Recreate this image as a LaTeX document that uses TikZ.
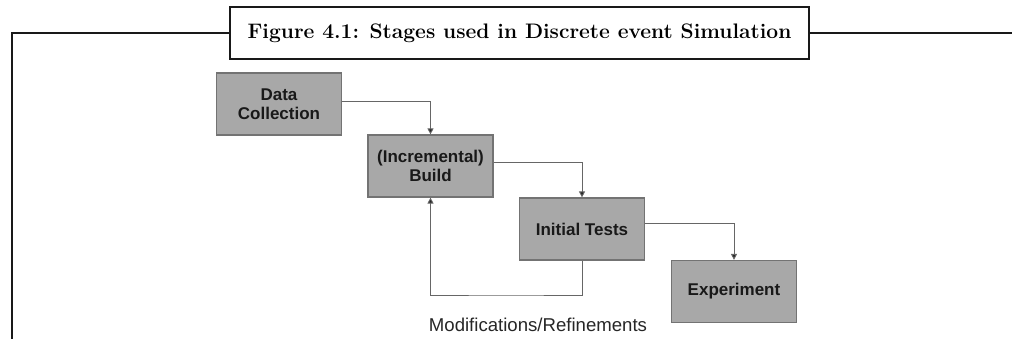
\documentclass[tikz,border=0pt]{standalone}
\usepackage{fontspec}
\newfontfamily\arialf{Liberation Sans}
\usetikzlibrary{arrows.meta}
\begin{document}
\begin{tikzpicture}[x=1pt,y=-1pt,
  stage/.style={draw=black!55,line width=1.2pt,fill=black!34,
    minimum width=125pt,minimum height=62pt,inner sep=0pt,align=center,
    font=\arialf\bfseries\fontsize{17}{18.5}\selectfont,text=black!90},
  link/.style={draw=black!60,line width=0.9pt,
    -{Triangle[length=6pt,width=6pt,fill=black!85]}},
  frame/.style={line width=2pt,draw=black!90}]
\useasboundingbox (0,0) rectangle (1012,339);

% heading box and the frame running off it
\node[frame,draw,fill=white,minimum width=579pt,minimum height=52pt,inner sep=0pt,
  font=\bfseries\fontsize{21}{24}\selectfont] (title) at (519.5,33)
  {Figure 4.1: Stages used in Discrete event Simulation};
\coordinate (fl) at (12,33);
\coordinate (fb) at (12,345);
\coordinate (fr) at (1015,33);
\draw[frame] (title.west) -- (fl) -- (fb);
\draw[frame] (title.east) -- (fr);

% stages
\node[stage] (dc) at (279,104) {Data\\Collection};
\node[stage] (build) at (430.5,166) {(Incremental)\\Build};
\node[stage] (tests) at (582,229) {Initial Tests};
\node[stage] (exp) at (734,291.5) {Experiment};

% flow between stages
\draw[link] ([yshift=3pt]dc.east) -| (build.north);
\draw[link] ([yshift=4pt]build.east) -| (tests.north);
\draw[link] ([yshift=6pt]tests.east) -| (exp.north);

% feedback loop
\coordinate (loop) at (506,295);
\draw[link] (tests.south) |- (loop) -| (build.south);
\node[font=\arialf\fontsize{18.6}{21}\selectfont,text=black!85] (lbl) at (538,325)
  {Modifications/Refinements};
\end{tikzpicture}
\end{document}
